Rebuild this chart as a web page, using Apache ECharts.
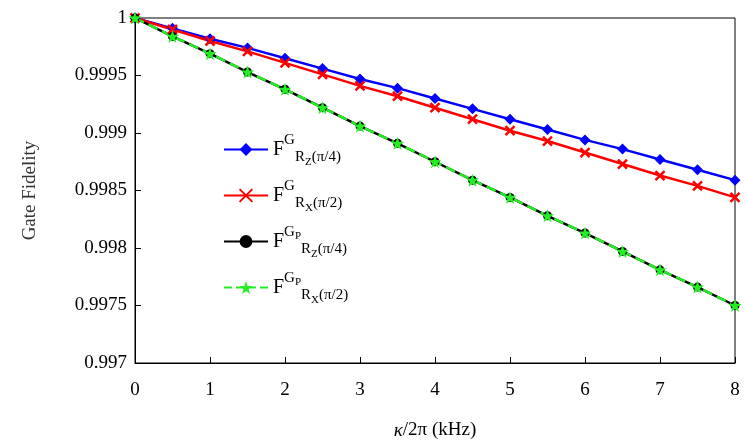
<!DOCTYPE html>
<html>
<head>
<meta charset="utf-8">
<script src="https://cdn.jsdelivr.net/npm/echarts@6/dist/echarts.min.js"></script>
<style>html,body{margin:0;background:#fff}#c{width:747px;height:445px}</style>
</head>
<body>
<div id="c"></div>
<script>
var kappa = [0,0.5,1,1.5,2,2.5,3,3.5,4,4.5,5,5.5,6,6.5,7,7.5,8];
var fRz = [1,.99991,.99982,.99974,.99965,.99956,.99947,.99939,.99930,.99921,.99912,.99903,.99894,.99886,.99877,.99868,.99859];
var fRx = [1,.99990,.99980,.99971,.99961,.99951,.99941,.99932,.99922,.99912,.99902,.99893,.99883,.99873,.99863,.99854,.99844];
var fPz = [1,.99984,.99969,.99953,.99938,.99922,.99906,.99891,.99875,.99859,.99844,.99828,.99813,.99797,.99781,.99766,.99750];
var fPx = [1,.99984,.99969,.99953,.99938,.99922,.99906,.99891,.99875,.99859,.99844,.99828,.99813,.99797,.99781,.99766,.99750];
var yTicks = ['1','0.9995','0.999','0.9985','0.998','0.9975','0.997'];

function pairs(v){ return kappa.map(function(k,i){return [k,v[i]];}); }
var font = 'Liberation Serif';
var rich = {
  F:{fontSize:20,fontFamily:font,color:'#000',verticalAlign:'middle'},
  sup:{fontSize:15,fontFamily:font,color:'#000',padding:[0,0,18,0]},
  supsub:{fontSize:11,fontFamily:font,color:'#000',padding:[0,0,10,0]},
  sub:{fontSize:15,fontFamily:font,color:'#000',padding:[16,0,0,0]},
  subsub:{fontSize:11,fontFamily:font,color:'#000',padding:[26,0,0,0]}
};
var labels = {
  a:'{F|F}{sup|G}{sub|R}{subsub|Z}{sub|(π/4)}',
  b:'{F|F}{sup|G}{sub|R}{subsub|X}{sub|(π/2)}',
  c:'{F|F}{sup|G}{supsub|P}{sub|R}{subsub|Z}{sub|(π/4)}',
  d:'{F|F}{sup|G}{supsub|P}{sub|R}{subsub|X}{sub|(π/2)}'
};

var chart = echarts.init(document.getElementById('c'));
chart.setOption({
  animation:false,
  grid:{left:135,right:12,top:18,bottom:80,show:true,borderColor:'#000',borderWidth:1},
  xAxis:{type:'value',min:0,max:8,interval:1,
    name:'{i|κ}/2π (kHz)',nameLocation:'middle',nameGap:58,
    nameTextStyle:{fontFamily:font,fontSize:19,color:'#000',rich:{i:{fontStyle:'italic',fontFamily:font,fontSize:19}}},
    axisLine:{lineStyle:{color:'#000'}},axisTick:{inside:true,length:6,lineStyle:{color:'#000'}},
    axisLabel:{fontFamily:font,fontSize:19,color:'#000',margin:18},splitLine:{show:false}},
  yAxis:{type:'value',min:0.997,max:1,interval:0.0005,
    name:'Gate Fidelity',nameLocation:'middle',nameGap:95,
    nameTextStyle:{fontFamily:font,fontSize:19,color:'#333'},
    axisLine:{lineStyle:{color:'#000'}},axisTick:{inside:true,length:6,lineStyle:{color:'#000'}},
    axisLabel:{fontFamily:font,fontSize:19,color:'#000',formatter:function(v){
      var i = Math.round((1-v)/0.0005); return yTicks[i];}},
    splitLine:{show:false}},
  legend:{orient:'vertical',left:218,top:128,itemGap:11,itemWidth:44,itemHeight:16,
    data:['a','b','c','d'],
    formatter:function(n){return labels[n];},
    textStyle:{rich:rich}},
  series:[
    {name:'a',type:'line',data:pairs(fRz),color:'#0000ff',symbol:'diamond',symbolSize:11,lineStyle:{width:2.5}},
    {name:'b',type:'line',data:pairs(fRx),color:'#ff0000',symbol:'path://M-1,-1L1,1M1,-1L-1,1',symbolSize:9,itemStyle:{borderColor:'#ff0000',borderWidth:2.5},lineStyle:{width:2.5}},
    {name:'c',type:'line',data:pairs(fPz),color:'#000',symbol:'circle',symbolSize:9,lineStyle:{width:2.5}},
    {name:'d',type:'line',data:pairs(fPx),color:'#22ee22',symbol:'path://M0,-10L2.35,-3.24L9.51,-3.09L3.8,1.24L5.88,8.09L0,4L-5.88,8.09L-3.8,1.24L-9.51,-3.09L-2.35,-3.24Z',symbolSize:13,lineStyle:{width:2.5,type:'dashed'}}
  ]
});
</script>
</body>
</html>
